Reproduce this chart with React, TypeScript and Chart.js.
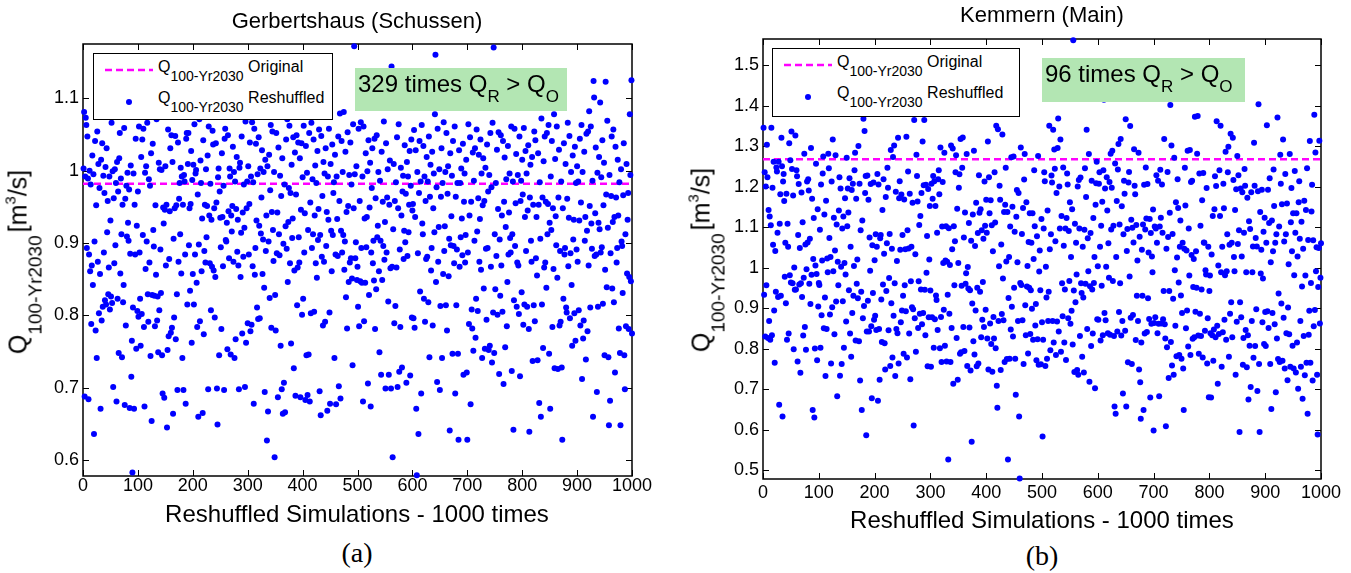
import React, { useEffect, useRef } from 'react';
import { Chart, registerables } from 'chart.js';

Chart.register(...registerables);

// ---------------- data ----------------
const simulationTicks = [0, 100, 200, 300, 400, 500, 600, 700, 800, 900, 1000];
const gerbertshausTicks = [0.6, 0.7, 0.8, 0.9, 1.0, 1.1];
const kemmernTicks = [0.5, 0.6, 0.7, 0.8, 0.9, 1.0, 1.1, 1.2, 1.3, 1.4, 1.5];
const gerbertshausRange = [0.578, 1.175];
const kemmernRange = [0.479, 1.565];
const gerbertshausOriginal = 0.982;
const kemmernOriginal = 1.268;

// Q100-Yr2030 of the 1000 reshuffled simulations, Gerbertshaus (Schussen)
const gerbertshausQ = [
  1.003, 1.081, 0.688, 0.992, 1.073, 1.063, 0.893, 1.047, 0.989, 0.684,
  0.884, 1.000, 0.861, 0.981, 0.788, 0.869, 1.021, 0.842, 0.995, 0.636,
  0.902, 1.041, 0.779, 0.952, 0.741, 1.054, 0.874, 1.009, 0.803, 0.976,
  0.857, 0.671, 1.015, 0.793, 1.038, 0.812, 0.993, 0.887, 0.969, 0.821,
  1.005, 0.815, 1.031, 0.915, 0.958, 0.829, 0.866, 0.992, 0.808, 0.931,
  0.826, 1.066, 0.817, 0.999, 0.701, 0.962, 0.872, 1.002, 0.897, 0.983,
  0.681, 1.012, 0.823, 0.971, 0.748, 1.017, 1.052, 0.858, 0.989, 0.912,
  0.742, 0.953, 0.818, 0.842, 1.059, 0.676, 0.961, 0.786, 0.979, 0.909,
  0.997, 0.928, 0.903, 0.974, 0.672, 0.885, 1.007, 0.715, 0.765, 0.583,
  0.811, 0.996, 0.671, 0.953, 0.884, 1.044, 0.754, 0.924, 0.806, 0.971,

  0.798, 1.061, 0.887, 0.823, 0.758, 1.019, 0.802, 1.043, 0.911, 1.058,
  0.784, 0.674, 0.997, 0.864, 1.006, 0.902, 1.066, 0.829, 0.791, 0.988,
  0.873, 0.979, 0.744, 1.024, 0.654, 0.828, 1.037, 0.918, 0.895, 0.827,
  0.785, 0.952, 0.856, 1.071, 0.793, 0.826, 0.749, 1.011, 0.807, 1.002,
  0.891, 0.831, 1.001, 0.745, 0.692, 0.949, 0.927, 0.686, 0.946, 1.006,
  0.869, 0.953, 0.645, 0.752, 1.057, 0.771, 0.878, 0.944, 1.031, 0.776,
  1.049, 0.783, 1.012, 0.664, 0.906, 0.797, 0.948, 1.048, 0.767, 0.952,
  0.829, 0.697, 1.039, 0.874, 0.961, 0.983, 0.912, 1.004, 0.858, 0.992,
  0.741, 0.953, 0.697, 0.994, 0.985, 0.884, 0.678, 1.044, 1.052, 0.815,
  1.009, 1.052, 0.897, 0.948, 0.834, 0.954, 1.027, 0.762, 0.987, 0.857,

  1.008, 0.815, 1.064, 0.884, 0.996, 1.001, 0.845, 0.784, 0.967, 0.660,
  0.898, 1.071, 0.792, 1.014, 0.983, 0.861, 0.934, 0.665, 1.042, 0.774,
  0.889, 0.953, 0.873, 1.002, 0.908, 0.951, 1.021, 0.698, 1.061, 0.938,
  0.872, 0.982, 0.807, 0.932, 0.867, 1.055, 1.036, 0.862, 0.948, 0.797,
  0.853, 1.038, 0.956, 0.699, 0.649, 0.991, 1.003, 0.745, 0.971, 0.935,
  0.894, 0.781, 1.024, 0.936, 0.868, 0.979, 0.697, 1.044, 1.058, 0.904,
  0.902, 0.928, 0.753, 1.049, 0.944, 0.879, 1.003, 0.992, 0.746, 0.938,
  0.916, 0.951, 1.033, 0.874, 0.998, 0.741, 0.985, 0.767, 0.947, 1.019,
  0.888, 0.932, 0.869, 0.698, 1.004, 1.011, 0.853, 0.914, 1.047, 0.775,
  0.942, 0.881, 0.981, 0.921, 0.701, 1.068, 0.762, 0.948, 0.985, 0.789,

  1.006, 0.884, 0.954, 1.039, 0.778, 0.992, 0.787, 1.067, 0.868, 0.984,
  0.678, 1.058, 0.856, 0.893, 1.037, 0.931, 0.811, 0.995, 0.795, 1.046,
  0.924, 0.796, 1.003, 0.913, 0.963, 1.028, 0.857, 0.905, 0.998, 0.838,
  0.694, 1.015, 0.889, 0.938, 0.627, 1.006, 0.667, 0.902, 1.022, 0.824,
  0.973, 1.063, 0.783, 0.943, 1.054, 0.918, 0.875, 0.998, 0.604, 0.828,
  0.779, 1.052, 0.886, 0.942, 0.687, 1.032, 0.912, 0.883, 0.993, 0.758,
  0.965, 0.698, 1.017, 0.664, 0.899, 0.707, 0.981, 0.666, 0.923, 1.043,
  0.892, 1.071, 0.846, 0.929, 0.976, 1.062, 0.872, 0.969, 0.761, 1.008,
  0.907, 0.934, 1.046, 0.727, 0.862, 1.025, 0.689, 0.967, 1.049, 0.814,
  0.866, 1.039, 0.908, 0.873, 1.017, 0.687, 0.946, 1.038, 0.801, 0.991,

  0.823, 1.062, 0.887, 0.941, 0.683, 1.034, 0.745, 0.997, 0.690, 0.918,
  0.746, 1.052, 0.681, 0.956, 0.803, 1.066, 0.893, 0.988, 0.912, 1.043,
  0.805, 0.938, 1.007, 0.872, 0.983, 0.852, 1.027, 0.904, 0.947, 1.057,
  0.695, 0.911, 0.662, 1.048, 0.881, 0.965, 0.786, 1.012, 0.874, 0.996,
  0.791, 1.031, 0.896, 0.943, 0.668, 0.992, 0.932, 1.058, 0.804, 0.678,
  1.009, 0.917, 0.861, 1.036, 0.911, 0.969, 0.984, 0.741, 1.022, 0.884,
  0.677, 0.992, 0.933, 0.882, 1.047, 0.702, 0.958, 1.079, 0.685, 0.917,
  1.041, 0.887, 0.998, 0.911, 1.081, 0.863, 0.902, 1.026, 0.825, 0.943,
  0.782, 1.053, 0.951, 0.846, 0.994, 0.873, 1.039, 0.879, 0.981, 0.851,
  0.731, 1.064, 0.948, 1.172, 0.995, 0.879, 0.901, 1.006, 0.849, 0.867,

  0.812, 1.058, 0.785, 0.958, 0.847, 1.067, 0.893, 0.845, 0.992, 0.681,
  1.061, 0.792, 0.934, 0.845, 1.024, 0.894, 0.936, 0.999, 0.706, 1.042,
  0.828, 0.949, 1.011, 0.674, 0.887, 0.976, 1.031, 0.872, 0.903, 0.848,
  1.044, 0.781, 0.962, 0.836, 1.049, 0.908, 0.924, 0.998, 0.861, 0.749,
  0.986, 0.903, 0.718, 1.026, 0.849, 0.957, 0.896, 1.068, 0.877, 0.929,
  0.699, 1.038, 0.887, 0.963, 1.002, 0.819, 0.718, 0.953, 1.014, 0.865,
  0.699, 1.144, 0.867, 0.604, 0.919, 1.009, 0.789, 0.958, 0.813, 0.984,
  0.866, 1.046, 0.701, 0.948, 1.064, 0.722, 0.891, 0.784, 1.004, 0.938,
  0.728, 0.971, 0.993, 0.878, 0.917, 1.035, 0.901, 0.968, 0.707, 1.012,
  0.882, 0.992, 0.915, 0.953, 1.027, 0.717, 0.979, 1.043, 0.797, 0.945,

  0.954, 0.796, 1.056, 0.783, 0.936, 1.028, 0.671, 0.579, 0.998, 0.886,
  0.636, 0.969, 1.041, 0.833, 0.985, 0.692, 1.063, 0.927, 0.912, 1.034,
  0.823, 0.992, 0.791, 0.958, 0.878, 1.019, 0.881, 0.985, 0.818, 1.047,
  0.742, 0.964, 1.008, 0.862, 0.893, 1.026, 0.786, 0.948, 0.996, 0.915,
  1.078, 1.160, 0.846, 0.977, 0.708, 1.058, 0.874, 0.922, 1.002, 0.697,
  0.813, 0.964, 1.031, 0.741, 0.983, 0.857, 1.067, 0.889, 0.923, 0.998,
  0.814, 1.052, 0.779, 0.968, 1.006, 0.854, 0.906, 0.641, 1.024, 0.897,
  0.937, 0.993, 0.747, 1.041, 0.896, 0.872, 1.061, 0.692, 0.964, 0.814,
  0.891, 0.983, 0.747, 0.628, 1.028, 0.867, 0.983, 0.908, 1.003, 0.934,
  0.883, 1.037, 0.718, 0.957, 0.996, 0.873, 0.911, 1.015, 0.721, 0.628,

  0.887, 1.064, 0.788, 0.938, 1.046, 0.677, 0.957, 0.808, 0.782, 1.025,
  0.751, 0.986, 0.903, 1.031, 0.769, 0.823, 1.057, 0.916, 0.806, 0.962,
  1.022, 0.874, 0.933, 1.043, 0.863, 0.996, 0.741, 0.952, 1.017, 0.837,
  0.958, 0.754, 1.004, 0.892, 0.794, 1.036, 0.893, 0.971, 0.752, 0.994,
  0.758, 1.052, 0.867, 0.977, 0.735, 1.066, 0.804, 1.170, 0.748, 0.912,
  0.836, 0.983, 0.882, 1.029, 0.801, 0.947, 1.053, 0.719, 0.905, 0.827,
  1.049, 0.869, 0.938, 0.805, 1.041, 0.705, 0.957, 1.018, 0.756, 0.922,
  0.988, 0.785, 0.846, 1.034, 0.884, 0.942, 0.996, 0.907, 0.887, 1.061,
  0.723, 0.912, 0.985, 0.642, 0.821, 1.058, 0.896, 0.955, 1.023, 0.812,
  0.873, 0.994, 0.869, 0.802, 1.047, 0.716, 0.958, 0.986, 0.832, 1.015,

  0.967, 0.787, 1.059, 0.815, 0.936, 1.027, 0.889, 0.996, 0.812, 0.945,
  1.035, 0.781, 0.639, 0.963, 1.008, 0.903, 0.874, 1.019, 0.737, 0.953,
  0.814, 1.054, 0.792, 1.042, 0.879, 0.936, 0.855, 0.738, 1.024, 0.953,
  0.679, 0.984, 0.906, 0.660, 1.072, 0.815, 0.963, 0.755, 1.013, 0.866,
  1.047, 0.873, 0.957, 0.838, 1.052, 0.912, 0.954, 1.063, 0.747, 0.928,
  0.671, 0.992, 0.918, 1.041, 0.784, 0.948, 0.864, 1.078, 0.727, 1.016,
  0.937, 0.897, 1.061, 0.852, 0.726, 0.963, 1.029, 0.786, 0.889, 0.791,
  0.985, 0.728, 0.628, 0.948, 0.823, 1.038, 0.884, 0.893, 1.009, 0.811,
  0.804, 0.961, 1.066, 0.868, 0.935, 1.048, 0.796, 0.886, 0.998, 0.842,
  0.758, 1.021, 0.905, 0.932, 0.803, 1.033, 0.765, 0.983, 0.891, 1.006,

  0.874, 0.985, 0.807, 0.931, 1.044, 0.786, 0.956, 1.063, 0.712, 0.998,
  0.768, 0.793, 1.026, 0.903, 0.936, 0.739, 1.051, 0.917, 0.778, 1.054,
  0.869, 1.082, 0.951, 0.811, 1.061, 0.927, 0.892, 0.986, 0.660, 1.124,
  1.101, 0.882, 0.941, 1.032, 0.884, 0.694, 0.997, 0.812, 0.928, 1.019,
  0.919, 1.094, 0.887, 0.991, 0.894, 1.042, 0.816, 0.952, 1.011, 0.745,
  0.863, 1.123, 0.967, 0.839, 1.069, 0.921, 0.742, 0.648, 0.994, 0.682,
  0.886, 0.965, 1.047, 0.837, 0.929, 1.057, 0.818, 0.936, 0.721, 1.033,
  0.963, 0.873, 0.893, 1.015, 0.938, 0.782, 0.984, 0.748, 0.648, 1.002,
  0.902, 0.896, 0.831, 0.966, 1.038, 0.745, 0.698, 0.912, 0.785, 1.009,
  0.858, 0.932, 0.969, 0.781, 0.853, 1.078, 0.994, 0.847, 1.125, 0.775,
];

// Q100-Yr2030 of the 1000 reshuffled simulations, Kemmern (Main)
const kemmernQ = [
  1.346, 0.934, 1.236, 0.831, 1.201, 0.957, 1.304, 1.224, 0.827, 1.143,
  0.869, 1.127, 0.823, 1.105, 1.346, 0.834, 1.198, 1.057, 1.262, 0.895,
  0.766, 1.042, 0.941, 1.248, 1.238, 1.087, 0.928, 1.262, 0.662, 1.109,
  1.182, 0.931, 1.321, 1.251, 0.633, 1.213, 1.232, 1.165, 0.978, 1.062,
  0.913, 1.183, 0.823, 1.109, 1.052, 0.838, 1.308, 0.982, 1.266, 0.964,
  1.337, 1.244, 0.962, 1.179, 0.799, 1.001, 0.946, 1.327, 0.947, 1.241,
  1.226, 0.769, 1.081, 1.207, 0.959, 1.049, 0.741, 0.962, 1.186, 0.928,
  1.113, 0.833, 0.976, 1.282, 0.854, 1.058, 0.798, 0.997, 1.213, 1.063,
  1.219, 1.191, 0.961, 1.072, 0.911, 1.296, 0.983, 1.171, 0.649, 1.022,
  1.123, 0.631, 0.801, 1.006, 1.257, 0.985, 0.772, 1.145, 0.905, 0.963,

  0.958, 1.094, 0.803, 1.206, 0.883, 1.018, 1.233, 1.275, 0.851, 1.132,
  0.927, 0.733, 1.166, 0.849, 1.023, 0.989, 1.282, 1.246, 1.074, 0.885,
  1.027, 0.764, 1.213, 0.903, 1.317, 0.992, 1.124, 0.836, 1.043, 1.278,
  0.917, 1.107, 0.683, 1.015, 0.957, 1.142, 1.224, 0.734, 1.196, 1.003,
  0.763, 1.097, 0.918, 1.127, 0.803, 1.012, 1.172, 0.984, 0.868, 1.272,
  1.103, 1.196, 1.137, 0.945, 1.221, 0.838, 1.052, 0.781, 1.192, 0.889,
  1.208, 0.931, 1.005, 1.241, 1.284, 0.821, 1.171, 0.961, 1.021, 0.925,
  1.301, 0.819, 1.208, 0.722, 1.093, 0.941, 0.649, 1.117, 0.876, 1.368,
  0.906, 1.338, 1.185, 1.227, 0.587, 0.843, 1.228, 0.919, 1.168, 0.843,
  1.075, 0.993, 1.207, 0.856, 0.678, 1.056, 0.938, 1.211, 0.872, 1.019,

  0.882, 1.083, 0.847, 1.052, 1.232, 0.672, 1.206, 0.849, 0.724, 1.073,
  1.081, 0.922, 0.817, 1.143, 0.959, 1.219, 1.035, 0.814, 0.749, 1.175,
  0.943, 1.061, 1.247, 1.198, 0.846, 0.975, 1.084, 0.758, 1.291, 0.913,
  1.047, 0.779, 1.274, 0.882, 1.302, 0.962, 0.733, 1.188, 0.849, 1.017,
  0.839, 1.321, 0.764, 1.172, 1.214, 1.045, 0.866, 1.181, 0.895, 1.081,
  0.931, 0.788, 1.169, 0.957, 1.046, 0.893, 1.324, 0.779, 1.093, 1.238,
  1.048, 0.838, 1.183, 0.725, 0.967, 1.052, 0.903, 1.161, 0.898, 0.611,
  1.365, 0.876, 1.034, 0.793, 1.279, 1.227, 1.164, 0.852, 0.967, 1.106,
  0.887, 1.128, 0.947, 1.185, 0.861, 1.312, 0.889, 1.204, 1.365, 0.946,
  0.834, 1.205, 0.988, 1.079, 0.757, 1.195, 0.878, 1.021, 1.153, 0.944,

  0.756, 1.208, 0.878, 1.171, 1.227, 0.803, 1.214, 0.873, 1.153, 0.932,
  0.921, 1.087, 0.847, 1.219, 1.241, 1.182, 0.802, 1.297, 0.879, 0.768,
  1.102, 1.212, 1.012, 0.897, 1.284, 0.808, 1.018, 1.103, 0.769, 1.015,
  0.934, 0.527, 1.098, 0.887, 1.007, 0.768, 1.302, 0.852, 1.046, 1.295,
  0.714, 1.103, 0.957, 1.066, 1.236, 1.278, 0.827, 1.146, 0.724, 1.012,
  1.198, 1.231, 0.788, 1.318, 0.792, 0.956, 1.247, 1.322, 0.854, 1.075,
  0.795, 1.137, 0.961, 0.987, 1.281, 0.758, 1.002, 0.949, 1.111, 0.853,
  0.945, 0.747, 1.067, 0.571, 0.912, 1.132, 0.819, 1.289, 0.786, 1.054,
  0.895, 1.161, 0.757, 0.951, 1.086, 0.764, 1.229, 1.136, 0.941, 1.145,
  0.829, 1.093, 0.872, 0.965, 1.072, 0.854, 1.213, 1.104, 0.897, 1.168,

  1.087, 0.826, 1.312, 0.749, 1.224, 1.135, 0.863, 1.167, 0.812, 1.105,
  0.744, 1.041, 0.879, 0.826, 1.236, 1.112, 0.802, 1.351, 0.709, 0.655,
  1.342, 0.869, 1.004, 1.203, 1.168, 0.748, 1.058, 0.886, 1.329, 0.974,
  0.871, 1.138, 0.768, 1.156, 1.247, 1.016, 0.775, 1.138, 0.527, 0.926,
  1.027, 0.776, 1.102, 0.848, 1.273, 0.904, 1.151, 0.831, 1.275, 0.951,
  1.089, 0.776, 0.687, 1.126, 1.192, 1.014, 0.869, 1.185, 0.633, 0.480,
  0.963, 1.297, 0.958, 1.084, 0.871, 1.148, 0.763, 1.218, 1.281, 0.908,
  0.834, 1.162, 0.954, 1.005, 0.789, 1.064, 0.951, 1.135, 0.837, 0.945,
  1.062, 0.899, 1.135, 0.823, 1.022, 1.241, 1.103, 0.858, 0.911, 0.772,
  1.078, 0.824, 1.276, 0.761, 0.991, 1.043, 0.945, 0.762, 1.121, 0.866,

  0.584, 0.823, 1.097, 1.236, 1.214, 0.758, 1.003, 0.927, 0.776, 1.142,
  0.869, 0.941, 1.351, 1.046, 0.797, 1.083, 1.228, 1.211, 0.869, 1.341,
  0.816, 1.292, 1.245, 1.066, 0.785, 1.185, 0.868, 1.296, 1.369, 0.843,
  1.201, 1.097, 1.317, 0.793, 1.128, 0.962, 0.881, 1.248, 1.055, 0.816,
  0.947, 1.097, 0.773, 1.123, 1.233, 1.206, 0.876, 1.091, 0.968, 1.162,
  0.862, 1.027, 0.894, 1.145, 0.811, 1.562, 0.944, 0.743, 1.109, 0.915,
  1.062, 0.984, 0.748, 1.201, 0.736, 1.217, 1.097, 0.832, 1.223, 0.962,
  0.938, 0.781, 1.052, 0.927, 0.742, 1.094, 1.246, 0.961, 1.175, 1.341,
  0.849, 1.073, 0.992, 1.281, 0.719, 0.955, 1.086, 0.807, 1.215, 0.947,
  0.838, 1.123, 0.963, 1.027, 0.703, 1.156, 1.209, 1.262, 0.873, 1.004,

  0.872, 1.208, 1.236, 1.052, 0.821, 1.104, 0.956, 1.163, 0.834, 1.241,
  1.415, 0.889, 1.196, 0.871, 1.003, 1.224, 1.142, 0.839, 1.061, 0.976,
  1.212, 0.835, 1.282, 1.095, 1.198, 1.289, 0.968, 1.104, 0.832, 0.658,
  1.258, 0.640, 1.027, 1.165, 0.843, 1.243, 1.306, 0.891, 1.107, 0.962,
  1.318, 0.833, 1.152, 0.869, 0.690, 1.083, 1.215, 1.183, 0.845, 1.367,
  0.658, 1.042, 1.096, 0.767, 1.211, 1.237, 0.979, 1.350, 0.877, 1.119,
  0.763, 1.099, 0.884, 1.063, 1.293, 1.203, 1.182, 0.822, 1.106, 0.931,
  1.018, 0.869, 1.284, 0.749, 1.077, 0.718, 0.628, 0.816, 1.045, 0.931,
  1.107, 0.649, 1.205, 0.838, 1.095, 1.248, 1.122, 0.842, 1.207, 0.925,
  1.038, 0.874, 1.121, 0.680, 1.086, 0.862, 1.028, 0.989, 1.144, 0.599,

  0.864, 1.102, 0.878, 1.097, 1.229, 1.062, 0.839, 1.215, 0.862, 0.683,
  1.102, 1.242, 1.124, 0.863, 1.206, 1.087, 0.873, 0.943, 1.318, 0.861,
  0.826, 0.609, 1.047, 0.804, 1.237, 1.076, 0.728, 0.943, 1.136, 1.402,
  0.817, 1.302, 0.759, 1.084, 0.924, 0.736, 1.272, 0.994, 0.857, 1.162,
  0.782, 1.026, 1.219, 1.148, 0.964, 0.785, 1.052, 1.117, 0.932, 0.776,
  0.889, 1.062, 0.752, 0.649, 1.047, 1.247, 1.154, 0.851, 1.043, 0.895,
  1.289, 0.806, 1.097, 0.981, 1.291, 0.785, 1.212, 1.032, 1.215, 0.825,
  0.953, 1.022, 0.829, 1.373, 0.892, 1.041, 0.951, 1.282, 1.375, 0.833,
  0.788, 1.233, 0.887, 1.104, 0.832, 0.947, 1.167, 0.779, 1.234, 1.063,
  1.062, 0.845, 0.994, 0.984, 1.197, 0.764, 0.876, 1.052, 0.681, 0.943,

  0.981, 0.839, 0.680, 1.033, 0.834, 1.128, 0.771, 0.848, 1.145, 1.226,
  0.829, 1.202, 1.362, 0.857, 0.714, 1.006, 0.837, 1.241, 1.128, 1.351,
  0.989, 0.756, 1.052, 0.841, 1.208, 1.147, 0.872, 0.982, 1.287, 0.823,
  0.992, 1.083, 1.236, 1.299, 0.781, 1.057, 0.887, 1.331, 0.915, 1.062,
  0.829, 1.321, 1.217, 1.027, 0.992, 1.143, 0.736, 1.194, 0.867, 1.276,
  1.059, 1.229, 1.093, 0.595, 0.915, 1.196, 0.878, 1.028, 1.187, 0.761,
  0.827, 1.087, 1.244, 1.203, 0.847, 0.989, 0.755, 1.173, 0.834, 0.675,
  1.115, 0.808, 1.096, 0.706, 1.187, 0.869, 0.989, 1.053, 0.778, 1.309,
  1.203, 0.807, 1.074, 0.898, 1.053, 0.696, 1.189, 1.404, 0.763, 0.595,
  1.138, 0.986, 1.045, 1.193, 0.866, 0.974, 1.089, 0.812, 1.124, 0.891,

  0.807, 1.062, 1.352, 0.893, 1.193, 0.852, 1.111, 1.221, 0.763, 1.014,
  0.652, 1.117, 0.889, 1.041, 1.243, 1.153, 0.861, 1.062, 0.693, 1.083,
  0.826, 1.371, 0.775, 0.937, 1.102, 0.768, 1.279, 1.208, 0.912, 1.157,
  0.771, 1.317, 0.877, 1.065, 0.752, 1.232, 1.083, 0.839, 1.159, 0.723,
  0.902, 1.009, 0.836, 1.281, 0.756, 1.113, 1.197, 1.041, 0.808, 1.135,
  0.752, 0.982, 1.239, 1.087, 0.742, 1.135, 0.816, 1.028, 0.702, 1.162,
  1.214, 1.072, 0.869, 0.756, 1.114, 0.954, 0.677, 1.047, 0.832, 1.166,
  0.735, 0.981, 1.143, 0.766, 1.246, 0.640, 1.069, 0.835, 0.894, 1.313,
  0.766, 0.963, 1.139, 1.205, 0.722, 1.068, 0.856, 1.378, 0.896, 1.285,
  0.992, 1.051, 0.736, 0.589, 0.953, 1.049, 1.314, 0.863, 0.976, 1.061,
];

// ---------------- style ----------------
const SANS = '"Liberation Sans", Arial, Helvetica, sans-serif';
const SERIF = '"Liberation Serif", "Times New Roman", serif';
const BLUE = '#0000ff';
const MAGENTA = '#ff00ff';
const GREEN = '#b3e6b3';

const framePlugin = {
  id: 'matlabFrame',
  beforeDatasetsDraw(chart: any) {
    const { ctx, chartArea: a, scales } = chart;
    ctx.save();
    ctx.strokeStyle = '#000';
    ctx.lineWidth = 1.5;
    ctx.strokeRect(a.left, a.top, a.right - a.left, a.bottom - a.top);
    const L = 6;
    ctx.lineWidth = 1;
    ctx.beginPath();
    for (const t of scales.x.ticks) {
      const px = Math.round(scales.x.getPixelForValue(t.value)) + 0.5;
      ctx.moveTo(px, a.bottom);
      ctx.lineTo(px, a.bottom - L);
      ctx.moveTo(px, a.top);
      ctx.lineTo(px, a.top + L);
    }
    for (const t of scales.y.ticks) {
      const py = Math.round(scales.y.getPixelForValue(t.value)) + 0.5;
      ctx.moveTo(a.left, py);
      ctx.lineTo(a.left + L, py);
      ctx.moveTo(a.right, py);
      ctx.lineTo(a.right - L, py);
    }
    ctx.stroke();
    ctx.restore();
  },
};

type PanelProps = {
  left: number;
  width: number;
  height: number;
  padTop: number;
  padRight: number;
  yAxisWidth: number;
  xAxisHeight: number;
  range: number[];
  yTicks: number[];
  values: number[];
  original: number;
  xLabelPad: number;
};

function ScatterPanel(p: PanelProps) {
  const ref = useRef<HTMLCanvasElement>(null);
  useEffect(() => {
    const simIds = p.values.map((_, i) => i + 1);
    const points = p.values.map((v, i) => ({ x: simIds[i], y: v }));
    const chart = new Chart(ref.current as HTMLCanvasElement, {
      type: 'scatter',
      data: {
        datasets: [
          {
            label: 'Original',
            data: [
              { x: simulationTicks[0], y: p.original },
              { x: simulationTicks[simulationTicks.length - 1], y: p.original },
            ],
            showLine: true,
            borderColor: MAGENTA,
            borderWidth: 2.5,
            borderDash: [7, 4],
            pointRadius: 0,
            order: 2,
          },
          {
            label: 'Reshuffled',
            data: points,
            pointRadius: 3,
            pointBorderWidth: 0,
            pointBackgroundColor: BLUE,
            pointBorderColor: BLUE,
            backgroundColor: BLUE,
            borderColor: BLUE,
            order: 1,
            clip: false,
          },
        ],
      } as any,
      options: {
        animation: false,
        responsive: false,
        events: [],
        layout: { padding: { left: 0, top: p.padTop, right: p.padRight, bottom: 0 } },
        plugins: {
          legend: { display: false },
          tooltip: { enabled: false },
          title: { display: false },
        },
        scales: {
          x: {
            type: 'linear',
            min: simulationTicks[0],
            max: simulationTicks[simulationTicks.length - 1],
            afterBuildTicks: (s: any) => {
              s.ticks = simulationTicks.map((v) => ({ value: v }));
            },
            afterFit: (s: any) => {
              s.height = p.xAxisHeight;
              s.paddingLeft = 0;
              s.paddingRight = 0;
            },
            grid: { display: false, drawTicks: false },
            border: { display: false },
            ticks: {
              color: '#000',
              font: { family: SANS, size: 18, lineHeight: 1 },
              padding: p.xLabelPad,
              maxRotation: 0,
              autoSkip: false,
              callback: (v: any) => String(v),
            },
          },
          y: {
            type: 'linear',
            min: p.range[0],
            max: p.range[1],
            afterBuildTicks: (s: any) => {
              s.ticks = p.yTicks.map((v) => ({ value: v }));
            },
            afterFit: (s: any) => {
              s.width = p.yAxisWidth;
              s.paddingTop = 0;
              s.paddingBottom = 0;
            },
            grid: { display: false, drawTicks: false },
            border: { display: false },
            ticks: {
              color: '#000',
              font: { family: SANS, size: 18, lineHeight: 1 },
              padding: 4,
              autoSkip: false,
              callback: (v: any) => String(Math.round(Number(v) * 10) / 10),
            },
          },
        },
      } as any,
      plugins: [framePlugin],
    });
    return () => chart.destroy();
  }, []);
  return (
    <canvas
      ref={ref}
      width={p.width}
      height={p.height}
      style={{ position: 'absolute', left: p.left, top: 0, width: p.width, height: p.height }}
    />
  );
}

function Txt(props: {
  x: number;
  baseline: number;
  size: number;
  center?: boolean;
  serif?: boolean;
  children: any;
}) {
  const k = props.serif ? 0.8375 : 0.8465;
  return (
    <div
      style={{
        position: 'absolute',
        left: props.x,
        top: props.baseline - k * props.size,
        fontSize: props.size,
        lineHeight: `${props.size}px`,
        fontFamily: props.serif ? SERIF : SANS,
        whiteSpace: 'nowrap',
        color: '#000',
        transform: props.center ? 'translateX(-50%)' : undefined,
      }}
    >
      {props.children}
    </div>
  );
}

function Shift(props: { size: number; dy: number; children: any }) {
  return (
    <span style={{ fontSize: props.size, position: 'relative', top: props.dy, lineHeight: 0 }}>
      {props.children}
    </span>
  );
}

function YLabel(props: { baselineX: number; cy: number }) {
  const size = 25;
  return (
    <div
      style={{
        position: 'absolute',
        left: props.baselineX - 0.3465 * size,
        top: props.cy,
        fontSize: size,
        lineHeight: `${size}px`,
        fontFamily: SANS,
        whiteSpace: 'nowrap',
        color: '#000',
        transform: 'translate(-50%, -50%) rotate(-90deg)',
      }}
    >
      Q<Shift size={19} dy={15}>100-Yr2030</Shift>
      <span style={{ marginLeft: 3 }}>[m</span>
      <Shift size={15} dy={-11}>3</Shift>/s]
    </div>
  );
}

function LegendBox(props: { left: number; top: number; width: number; height: number }) {
  const { left, top, width, height } = props;
  return (
    <>
      <div
        style={{
          position: 'absolute',
          left,
          top,
          width,
          height,
          boxSizing: 'border-box',
          border: '1.5px solid #000',
          background: '#fff',
        }}
      />
      <svg style={{ position: 'absolute', left: left + 12, top: top + 14 }} width={50} height={6}>
        <line x1={0} y1={3} x2={48} y2={3} stroke={MAGENTA} strokeWidth={2.5} strokeDasharray="7 4" />
      </svg>
      <div
        style={{
          position: 'absolute',
          left: left + 33,
          top: top + 46,
          width: 6,
          height: 6,
          borderRadius: 3,
          background: BLUE,
        }}
      />
      <Txt x={left + 65} baseline={top + 19.5} size={16}>
        Q<Shift size={14} dy={9}>100-Yr2030</Shift> Original
      </Txt>
      <Txt x={left + 65} baseline={top + 50.5} size={16}>
        Q<Shift size={14} dy={9}>100-Yr2030</Shift> Reshuffled
      </Txt>
    </>
  );
}

function CountBox(props: { left: number; top: number; width: number; height: number; text: string }) {
  const { left, top, width, height, text } = props;
  return (
    <>
      <div style={{ position: 'absolute', left, top, width, height, background: GREEN }} />
      <Txt x={left + 3} baseline={top + 24} size={24}>
        {text} Q<Shift size={17} dy={10}>R</Shift> &gt; Q<Shift size={17} dy={10}>O</Shift>
      </Txt>
    </>
  );
}

export default function App() {
  return (
    <div
      style={{
        position: 'absolute',
        left: 0,
        top: 0,
        width: 1351,
        height: 573,
        background: '#fff',
        overflow: 'hidden',
      }}
    >
      <ScatterPanel
        left={0}
        width={680}
        height={520}
        padTop={44}
        padRight={48}
        yAxisWidth={83}
        xAxisHeight={44}
        range={gerbertshausRange}
        yTicks={gerbertshausTicks}
        values={gerbertshausQ}
        original={gerbertshausOriginal}
        xLabelPad={1}
      />
      <ScatterPanel
        left={680}
        width={671}
        height={520}
        padTop={39}
        padRight={30}
        yAxisWidth={83}
        xAxisHeight={41}
        range={kemmernRange}
        yTicks={kemmernTicks}
        values={kemmernQ}
        original={kemmernOriginal}
        xLabelPad={5}
      />

      <Txt x={357} baseline={29} size={22} center>
        Gerbertshaus (Schussen)
      </Txt>
      <Txt x={1042} baseline={23} size={22} center>
        Kemmern (Main)
      </Txt>

      <YLabel baselineX={27} cy={262} />
      <YLabel baselineX={710} cy={260} />

      <Txt x={357} baseline={522} size={24} center>
        Reshuffled Simulations - 1000 times
      </Txt>
      <Txt x={1042} baseline={528} size={24} center>
        Reshuffled Simulations - 1000 times
      </Txt>

      <Txt x={357} baseline={562} size={28} center serif>
        (a)
      </Txt>
      <Txt x={1042} baseline={565} size={28} center serif>
        (b)
      </Txt>

      <LegendBox left={93} top={53} width={240} height={67} />
      <LegendBox left={772} top={48} width={248} height={69} />

      <CountBox left={355} top={68} width={212} height={43} text="329 times" />
      <CountBox left={1042} top={58} width={203} height={44} text="96 times" />
    </div>
  );
}
